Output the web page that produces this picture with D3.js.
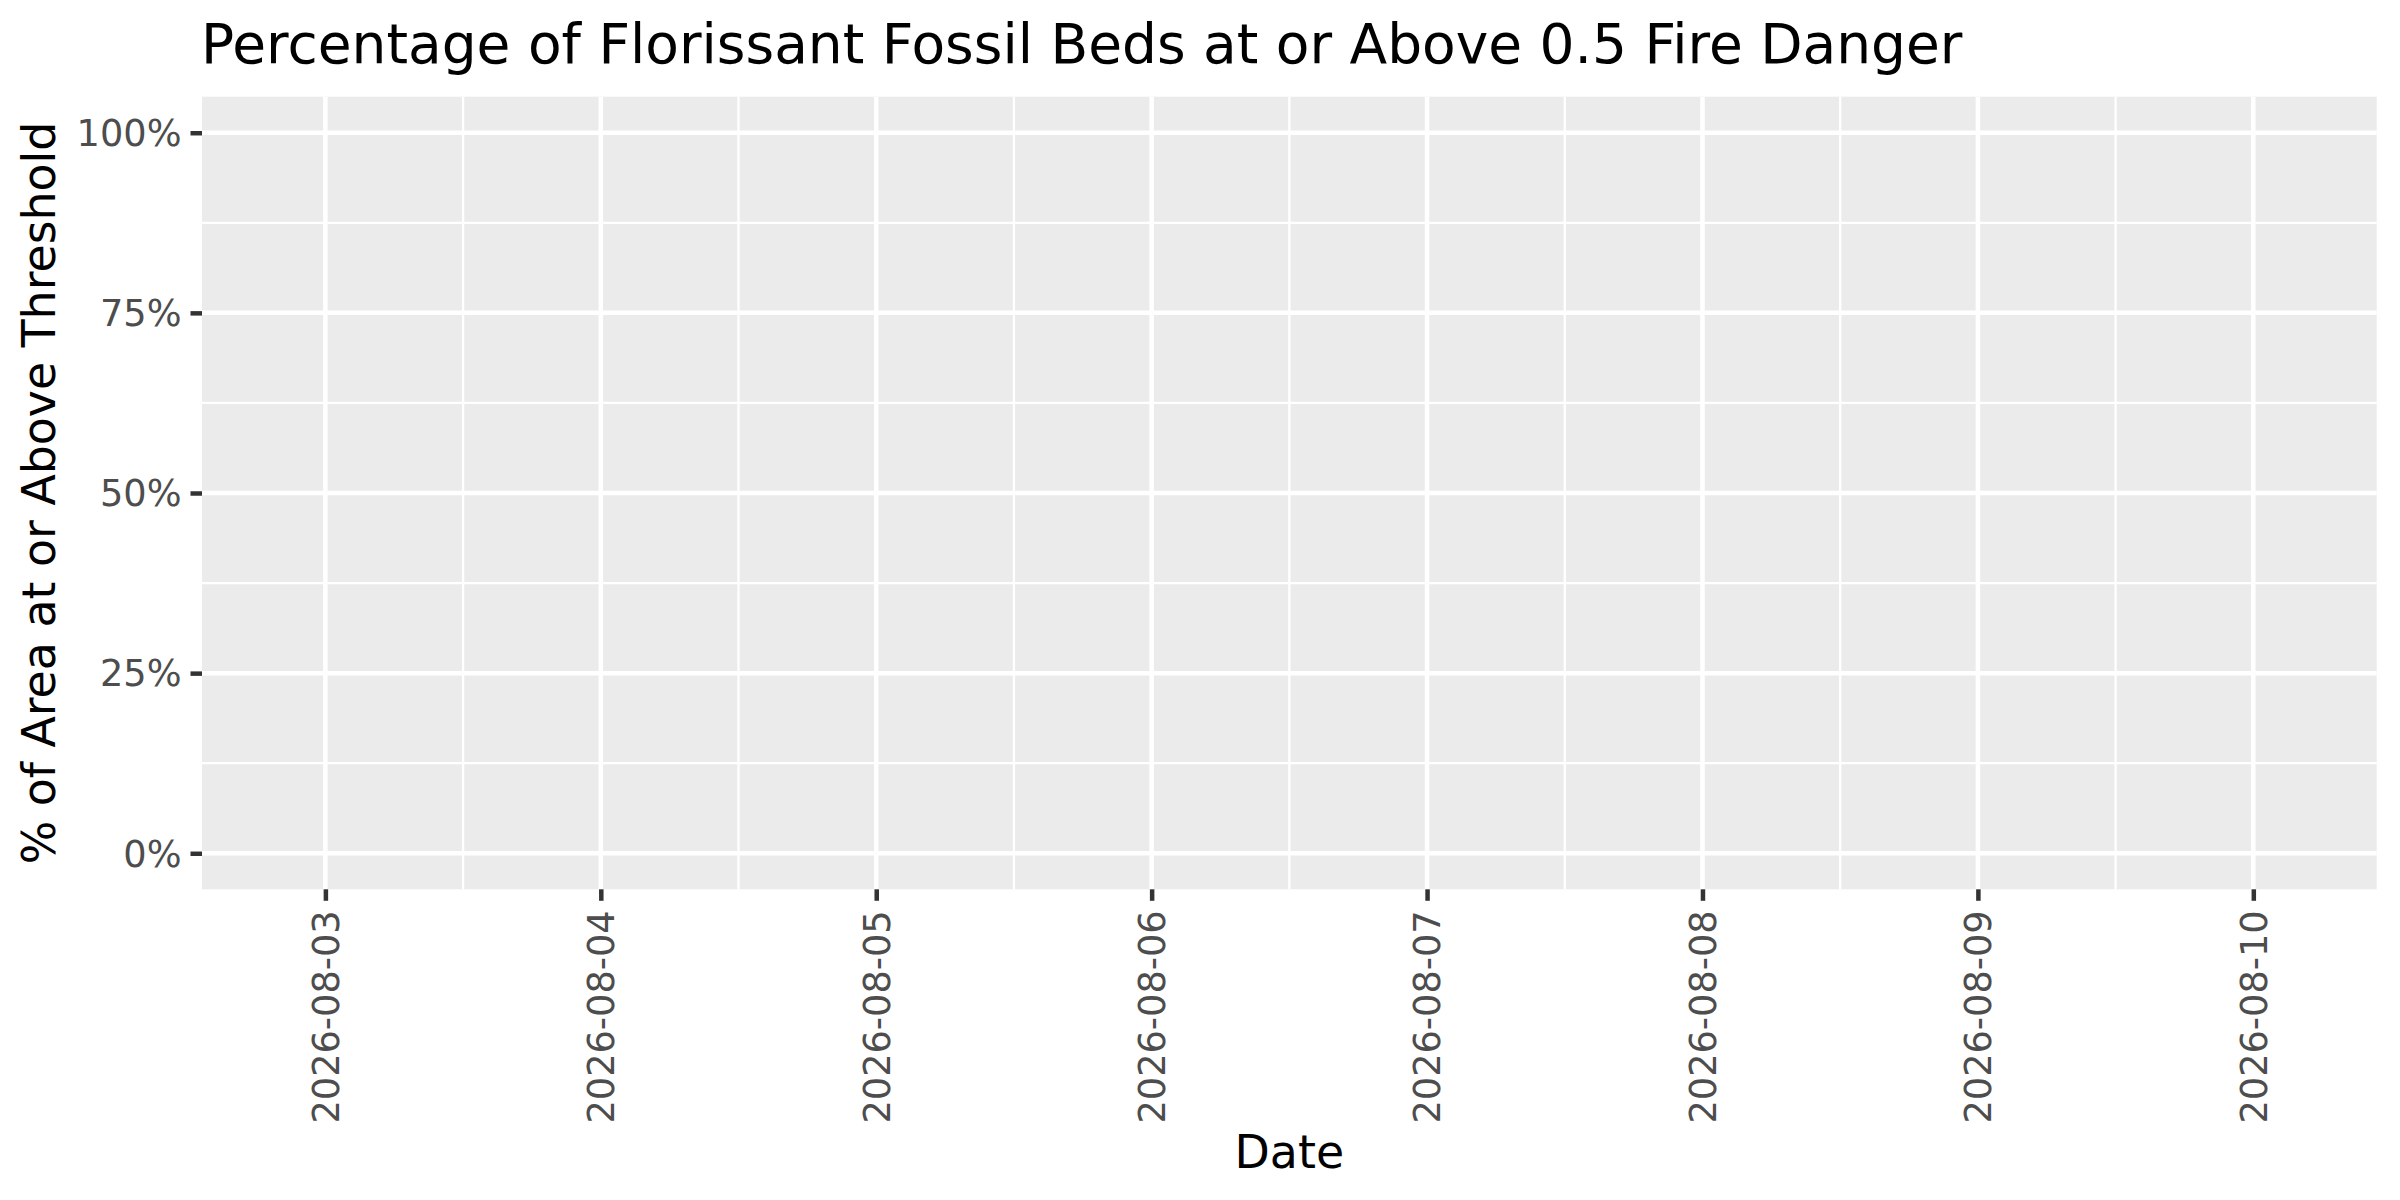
<!DOCTYPE html>
<html>
<head>
<meta charset="utf-8">
<script src="https://cdn.jsdelivr.net/npm/d3@7"></script>
<style>
  html, body { margin: 0; padding: 0; background: #ffffff; }
  svg { display: block; font-family: "DejaVu Sans", sans-serif; }
</style>
</head>
<body>
<svg id="chart" width="2400" height="1200"></svg>
<script>
// ---- data ----
const titleText = "Percentage of Florissant Fossil Beds at or Above 0.5 Fire Danger";
const xTitle = "Date";
const yTitle = "% of Area at or Above Threshold";
const dateLabels = ["2026-08-03","2026-08-04","2026-08-05","2026-08-06","2026-08-07","2026-08-08","2026-08-09","2026-08-10"];
// no values are plotted in the reference (all missing)
const pctValues = [null, null, null, null, null, null, null, null];
const yTicks = [0, 0.25, 0.5, 0.75, 1];
const yMinorTicks = [0.125, 0.375, 0.625, 0.875];

// ---- layout ----
const W = 2400, H = 1200;
const panel = { left: 202, right: 2376.7, top: 96.7, bottom: 889.3 };
const DAY = 86400000;
const parse = d3.utcParse("%Y-%m-%d");
const dates = dateLabels.map(parse);
const pad = 0.448 * DAY;

const svg = d3.select("#chart");
svg.append("rect").attr("width", W).attr("height", H).attr("fill", "#ffffff");

const x = d3.scaleUtc()
  .domain([new Date(+dates[0] - pad), new Date(+dates[dates.length - 1] + pad)])
  .range([panel.left, panel.right]);
const y = d3.scaleLinear().domain([-0.05, 1.05]).range([panel.bottom, panel.top]);

// panel background
svg.append("rect")
  .attr("x", panel.left).attr("y", panel.top)
  .attr("width", panel.right - panel.left).attr("height", panel.bottom - panel.top)
  .attr("fill", "#EBEBEB");

const grid = svg.append("g");
const xMinor = dates.slice(0, -1).map(d => new Date(+d + DAY / 2));
// minor grid
grid.selectAll(".ymin").data(yMinorTicks).join("line")
  .attr("x1", panel.left).attr("x2", panel.right)
  .attr("y1", d => y(d)).attr("y2", d => y(d))
  .attr("stroke", "#ffffff").attr("stroke-width", 2.3);
grid.selectAll(".xmin").data(xMinor).join("line")
  .attr("x1", d => x(d)).attr("x2", d => x(d))
  .attr("y1", panel.top).attr("y2", panel.bottom)
  .attr("stroke", "#ffffff").attr("stroke-width", 2.3);
// major grid
grid.selectAll(".ymaj").data(yTicks).join("line")
  .attr("x1", panel.left).attr("x2", panel.right)
  .attr("y1", d => y(d)).attr("y2", d => y(d))
  .attr("stroke", "#ffffff").attr("stroke-width", 4.5);
grid.selectAll(".xmaj").data(dates).join("line")
  .attr("x1", d => x(d)).attr("x2", d => x(d))
  .attr("y1", panel.top).attr("y2", panel.bottom)
  .attr("stroke", "#ffffff").attr("stroke-width", 4.5);

// data line (values missing -> nothing drawn)
const series = dates.map((d, i) => ({ date: d, value: pctValues[i] }));
svg.append("path")
  .datum(series)
  .attr("fill", "none")
  .attr("stroke", "#000000")
  .attr("stroke-width", 2)
  .attr("d", d3.line().defined(d => d.value != null).x(d => x(d.date)).y(d => y(d.value)));

// y axis
const yAxis = svg.append("g")
  .attr("transform", `translate(${panel.left},0)`)
  .call(d3.axisLeft(y).tickValues(yTicks).tickFormat(d3.format(".0%")).tickSize(11.5).tickPadding(9));
yAxis.select(".domain").remove();
yAxis.selectAll(".tick line").attr("stroke", "#333333").attr("stroke-width", 4.5);
yAxis.selectAll(".tick text")
  .attr("fill", "#4D4D4D").attr("font-size", 36.7)
  .attr("font-family", "DejaVu Sans").attr("dy", "0.35em");

// x axis
const xAxis = svg.append("g")
  .attr("transform", `translate(0,${panel.bottom})`)
  .call(d3.axisBottom(x).tickValues(dates).tickFormat(d3.utcFormat("%Y-%m-%d")).tickSize(11.5));
xAxis.select(".domain").remove();
xAxis.selectAll(".tick line").attr("stroke", "#333333").attr("stroke-width", 4.5);
xAxis.selectAll(".tick text")
  .attr("fill", "#4D4D4D").attr("font-size", 36.7)
  .attr("font-family", "DejaVu Sans")
  .attr("transform", "rotate(-90)")
  .attr("x", -21).attr("y", 0).attr("dy", "0.35em")
  .attr("text-anchor", "end");

// titles
svg.append("text")
  .attr("x", 201).attr("y", 62.7)
  .attr("font-size", 55).attr("fill", "#000000")
  .text(titleText);
svg.append("text")
  .attr("x", (panel.left + panel.right) / 2).attr("y", 1167.7)
  .attr("text-anchor", "middle").attr("font-size", 45.8).attr("fill", "#000000")
  .text(xTitle);
svg.append("text")
  .attr("transform", `translate(55,${(panel.top + panel.bottom) / 2}) rotate(-90)`)
  .attr("text-anchor", "middle").attr("font-size", 45.8).attr("fill", "#000000")
  .text(yTitle);
</script>
</body>
</html>
